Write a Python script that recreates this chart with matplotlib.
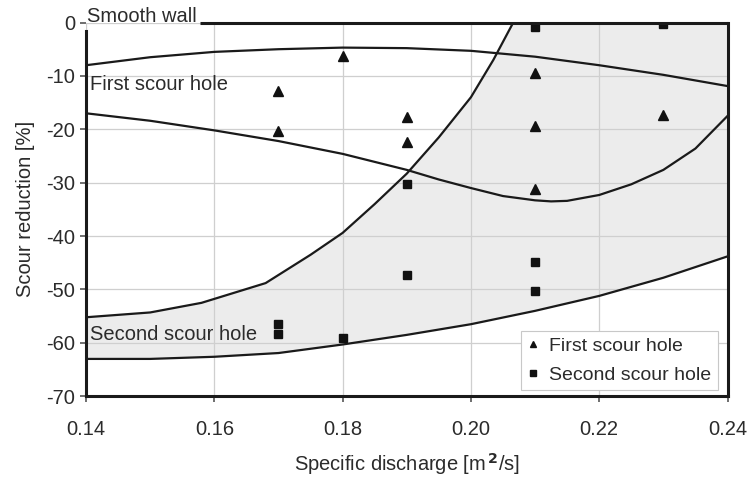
import numpy as np
import matplotlib.pyplot as plt

plt.rcParams['font.family'] = ['Liberation Sans', 'DejaVu Sans']
plt.rcParams['axes.unicode_minus'] = False

# measured points
first_x = [0.17, 0.17, 0.18, 0.19, 0.19, 0.21, 0.21, 0.21, 0.23]
first_y = [-12.9, -20.4, -6.3, -17.7, -22.3, -9.4, -19.4, -31.2, -17.4]
second_x = [0.17, 0.17, 0.18, 0.19, 0.19, 0.21, 0.21, 0.21, 0.23]
second_y = [-56.5, -58.3, -59.0, -30.2, -47.2, -0.9, -44.8, -50.2, -0.3]

# envelope of first scour hole
first_up_x = [0.14, 0.15, 0.16, 0.17, 0.18, 0.19, 0.20, 0.21, 0.22, 0.23, 0.24]
first_up_y = [-8.0, -6.5, -5.5, -5.0, -4.7, -4.8, -5.3, -6.4, -8.0, -9.8, -11.9]
first_lo_x = [0.14, 0.15, 0.16, 0.17, 0.18, 0.19, 0.195, 0.20, 0.205, 0.21, 0.2125,
              0.215, 0.22, 0.225, 0.23, 0.235, 0.24]
first_lo_y = [-17.0, -18.4, -20.2, -22.2, -24.6, -27.6, -29.4, -31.0, -32.5, -33.3, -33.5,
              -33.4, -32.3, -30.3, -27.6, -23.6, -17.5]

# envelope of second scour hole
second_up_x = [0.14, 0.15, 0.158, 0.168, 0.175, 0.18, 0.185, 0.19, 0.195, 0.20, 0.2035,
               0.2066, 0.24]
second_up_y = [-55.2, -54.3, -52.5, -48.8, -43.5, -39.4, -34.0, -28.3, -21.5, -14.0, -7.0,
               0.0, 0.0]
second_lo_x = [0.14, 0.15, 0.16, 0.17, 0.18, 0.19, 0.20, 0.21, 0.22, 0.23, 0.24]
second_lo_y = [-63.0, -63.0, -62.6, -61.9, -60.3, -58.5, -56.5, -54.0, -51.2, -47.8, -43.8]

x_ticks = [0.14, 0.16, 0.18, 0.20, 0.22, 0.24]
x_tick_labels = ['0.14', '0.16', '0.18', '0.20', '0.22', '0.24']
y_ticks = [0, -10, -20, -30, -40, -50, -60, -70]

txt = '#2b2b2b'
fs = 14.5
fig = plt.figure(figsize=(7.48, 4.8), dpi=100)
ax = fig.add_axes([0.115, 0.1744, 0.8576, 0.7787])

# shaded band of the second scour hole
poly_x = np.concatenate([second_lo_x, second_up_x[::-1]])
poly_y = np.concatenate([second_lo_y, second_up_y[::-1]])
ax.fill(poly_x, poly_y, color='#ececec', lw=0, zorder=0.3)

lw = 1.6
ax.plot(first_up_x, first_up_y, color='#1a1a1a', lw=lw, zorder=2)
ax.plot(first_lo_x, first_lo_y, color='#1a1a1a', lw=lw, zorder=2)
ax.plot(second_up_x, second_up_y, color='#1a1a1a', lw=lw, zorder=2)
ax.plot(second_lo_x, second_lo_y, color='#1a1a1a', lw=lw, zorder=2)

ax.plot(first_x, first_y, '^', color='#111111', ms=6.5, ls='none', zorder=3,
        label='First scour hole')
ax.plot(second_x, second_y, 's', color='#111111', ms=5.5, ls='none', zorder=3,
        label='Second scour hole')

ax.set_xlim(0.14, 0.24)
ax.set_ylim(-70, 0)
ax.set_xticks(x_ticks)
ax.set_xticklabels(x_tick_labels)
ax.set_yticks(y_ticks)
ax.set_axisbelow(True)
ax.grid(True, color='#cfcfcf', lw=0.9)

for s in ['bottom', 'right', 'left']:
    ax.spines[s].set_linewidth(2.2)
    ax.spines[s].set_color('#1a1a1a')
ax.spines['top'].set_visible(False)
ax.spines['left'].set_bounds(-70, -1.5)
# smooth wall line along the top
ax.plot([0.1578, 0.24], [0, 0], color='#1a1a1a', lw=2.2, clip_on=False, zorder=4,
        solid_capstyle='butt')

ax.tick_params(axis='both', labelsize=fs, labelcolor=txt, color='#555555',
               length=4, width=1.2, pad=4)
ax.tick_params(axis='x', pad=13)

ax.text(0.1401, 1.2, 'Smooth wall', fontsize=fs, color=txt, va='center', ha='left')
ax.text(0.1406, -11.6, 'First scour hole', fontsize=fs, color=txt, va='center', ha='left')
ax.text(0.1406, -58.5, 'Second scour hole', fontsize=fs, color=txt, va='center', ha='left')

ax.set_xlabel('Specific discharge [m$^{\\,\\mathbf{2}}$/s]', fontsize=fs, color=txt, labelpad=9)
ax.set_ylabel('Scour reduction [%]', fontsize=fs, color=txt, labelpad=8)

leg = ax.legend(loc='lower right', bbox_to_anchor=(0.985, 0.016), borderaxespad=0,
                fontsize=14, fancybox=False, framealpha=1, edgecolor='#c8c8c8',
                markerscale=0.7, handlelength=0.6, handletextpad=0.5, borderpad=0.35,
                labelspacing=0.55)
leg.get_frame().set_linewidth(0.8)
for t in leg.get_texts():
    t.set_color(txt)

fig.savefig('out.png', dpi=100)
